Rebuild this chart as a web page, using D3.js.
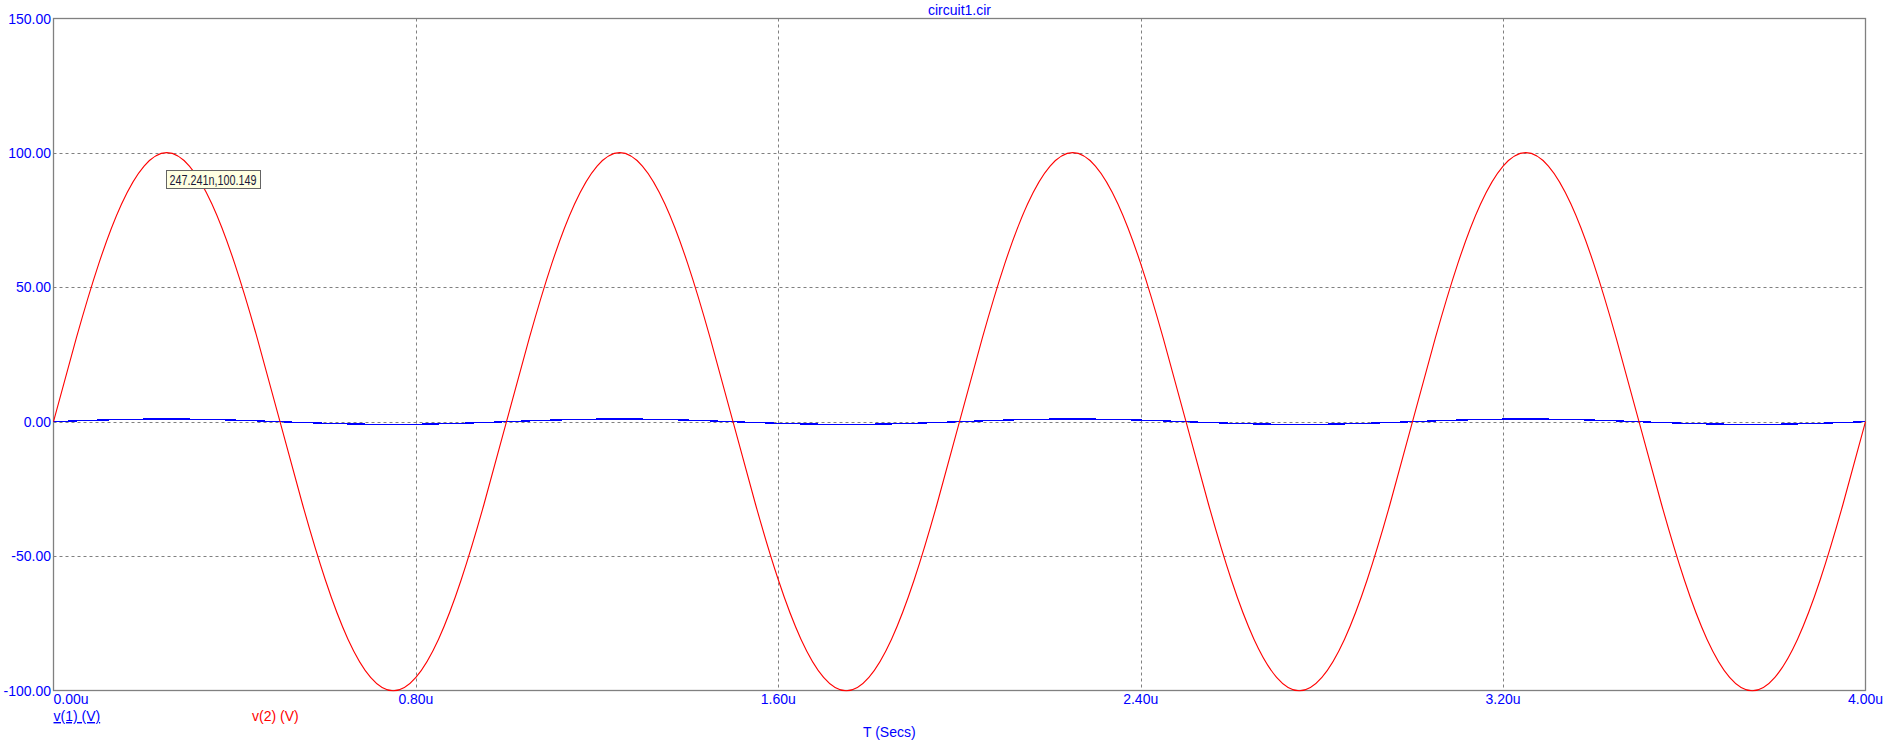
<!DOCTYPE html>
<html>
<head>
<meta charset="utf-8">
<script src="https://cdn.jsdelivr.net/npm/d3@7/dist/d3.min.js"></script>
<style>
  html, body { margin: 0; padding: 0; background: #fff; }
  svg { display: block; font-family: "Liberation Sans", Arial, sans-serif; }
</style>
</head>
<body>
<svg id="chart" width="1896" height="745"></svg>
<script>
// ---- data (time in microseconds, voltages in V) ----
const timeUs = [0,0.05,0.1,0.15,0.2,0.25,0.3,0.35,0.4,0.45,0.5,0.55,0.6,0.65,0.7,0.75,0.8,0.85,0.9,0.95,
  1,1.05,1.1,1.15,1.2,1.25,1.3,1.35,1.4,1.45,1.5,1.55,1.6,1.65,1.7,1.75,1.8,1.85,1.9,1.95,
  2,2.05,2.1,2.15,2.2,2.25,2.3,2.35,2.4,2.45,2.5,2.55,2.6,2.65,2.7,2.75,2.8,2.85,2.9,2.95,
  3,3.05,3.1,3.15,3.2,3.25,3.3,3.35,3.4,3.45,3.5,3.55,3.6,3.65,3.7,3.75,3.8,3.85,3.9,3.95,4];
const v2 = [0,30.9,58.8,80.9,95.1,100.1,95.1,80.9,58.8,30.9,0,-30.9,-58.8,-80.9,-95.1,-100.1,-95.1,-80.9,-58.8,-30.9,
  0,30.9,58.8,80.9,95.1,100.1,95.1,80.9,58.8,30.9,0,-30.9,-58.8,-80.9,-95.1,-100.1,-95.1,-80.9,-58.8,-30.9,
  0,30.9,58.8,80.9,95.1,100.1,95.1,80.9,58.8,30.9,0,-30.9,-58.8,-80.9,-95.1,-100.1,-95.1,-80.9,-58.8,-30.9,
  0,30.9,58.8,80.9,95.1,100.1,95.1,80.9,58.8,30.9,0,-30.9,-58.8,-80.9,-95.1,-100.1,-95.1,-80.9,-58.8,-30.9,0];
const v1 = [0,0.31,0.59,0.81,0.95,1,0.95,0.81,0.59,0.31,0,-0.31,-0.59,-0.81,-0.95,-1,-0.95,-0.81,-0.59,-0.31,
  0,0.31,0.59,0.81,0.95,1,0.95,0.81,0.59,0.31,0,-0.31,-0.59,-0.81,-0.95,-1,-0.95,-0.81,-0.59,-0.31,
  0,0.31,0.59,0.81,0.95,1,0.95,0.81,0.59,0.31,0,-0.31,-0.59,-0.81,-0.95,-1,-0.95,-0.81,-0.59,-0.31,
  0,0.31,0.59,0.81,0.95,1,0.95,0.81,0.59,0.31,0,-0.31,-0.59,-0.81,-0.95,-1,-0.95,-0.81,-0.59,-0.31,0];
const xTicks = [0, 0.8, 1.6, 2.4, 3.2, 4.0];
const xTickLabels = ["0.00u", "0.80u", "1.60u", "2.40u", "3.20u", "4.00u"];
const yTicks = [-100, -50, 0, 50, 100, 150];
const yTickLabels = ["-100.00", "-50.00", "0.00", "50.00", "100.00", "150.00"];
const title = "circuit1.cir";
const xAxisTitle = "T (Secs)";
const seriesNames = ["v(1) (V)", "v(2) (V)"];
const cursorPoint = { t: 0.247241, v: 100.149, label: "247.241n,100.149" };

// ---- layout ----
const svg = d3.select("#chart");
const L = 53.5, R = 1865.5, T = 18.5, B = 690.5;
const x = d3.scaleLinear().domain([0, 4]).range([L, R]);
const y = d3.scaleLinear().domain([-100, 150]).range([B, T]);
const blue = "#0000ff", red = "#ff0000", gridC = "#808080";

// grid
const g = svg.append("g");
g.selectAll("line.vg").data(xTicks.slice(1, -1)).join("line")
  .attr("x1", d => Math.round(x(d)) + 0.5).attr("x2", d => Math.round(x(d)) + 0.5)
  .attr("y1", T).attr("y2", B)
  .attr("stroke", gridC).attr("stroke-dasharray", "3,3").attr("stroke-width", 1);
g.selectAll("line.hg").data(yTicks.slice(1, -1)).join("line")
  .attr("y1", d => Math.round(y(d)) + 0.5).attr("y2", d => Math.round(y(d)) + 0.5)
  .attr("x1", L).attr("x2", R)
  .attr("stroke", gridC).attr("stroke-dasharray", "3,3").attr("stroke-width", 1);

// frame
svg.append("rect").attr("x", L).attr("y", T).attr("width", R - L).attr("height", B - T)
  .attr("fill", "none").attr("stroke", gridC).attr("stroke-width", 1.3);

// series
const pts2 = timeUs.map((t, i) => [t, v2[i]]);
const pts1 = timeUs.map((t, i) => [t, v1[i]]);
svg.append("path").datum(pts1)
  .attr("d", d3.line().x(d => x(d[0])).y(d => y(d[1])).curve(d3.curveNatural))
  .attr("fill", "none").attr("stroke", blue).attr("stroke-width", 1.3)
  .attr("shape-rendering", "crispEdges");
svg.append("path").datum(pts2)
  .attr("d", d3.line().x(d => x(d[0])).y(d => y(d[1])).curve(d3.curveNatural))
  .attr("fill", "none").attr("stroke", red).attr("stroke-width", 1.1);

// y tick labels
svg.selectAll("text.yl").data(yTicks).join("text")
  .attr("x", 51).attr("y", d => y(d) + 5)
  .attr("text-anchor", "end").attr("font-size", 14).attr("fill", blue)
  .text((d, i) => yTickLabels[i]);

// x tick labels
svg.selectAll("text.xl").data(xTicks).join("text")
  .attr("x", (d, i) => i === 0 ? L : x(d)).attr("y", 704)
  .attr("text-anchor", (d, i) => i === 0 ? "start" : "middle")
  .attr("font-size", 14).attr("fill", blue)
  .text((d, i) => xTickLabels[i]);

// title
svg.append("text").attr("x", (L + R) / 2).attr("y", 15).attr("text-anchor", "middle")
  .attr("font-size", 14).attr("fill", blue).text(title);

// x axis title
svg.append("text").attr("x", 863).attr("y", 737).attr("font-size", 14).attr("fill", blue).text(xAxisTitle);

// legend
svg.append("text").attr("x", L).attr("y", 721).attr("font-size", 14).attr("fill", blue)
  .attr("text-decoration", "underline").text(seriesNames[0]);
svg.append("text").attr("x", 252).attr("y", 721).attr("font-size", 14).attr("fill", red).text(seriesNames[1]);

// cursor tooltip
const bx = Math.round(x(cursorPoint.t)) + 0.5, by = Math.round(y(cursorPoint.v)) + 18.5;
svg.append("rect").attr("x", bx).attr("y", by).attr("width", 94).attr("height", 18)
  .attr("fill", "#ffffe1").attr("stroke", "#646464").attr("stroke-width", 1);
svg.append("text").attr("x", bx + 3).attr("y", by + 14).attr("font-size", 14)
  .attr("fill", "#1a1a3a").attr("textLength", 87).attr("lengthAdjust", "spacingAndGlyphs")
  .text(cursorPoint.label);
</script>
</body>
</html>
